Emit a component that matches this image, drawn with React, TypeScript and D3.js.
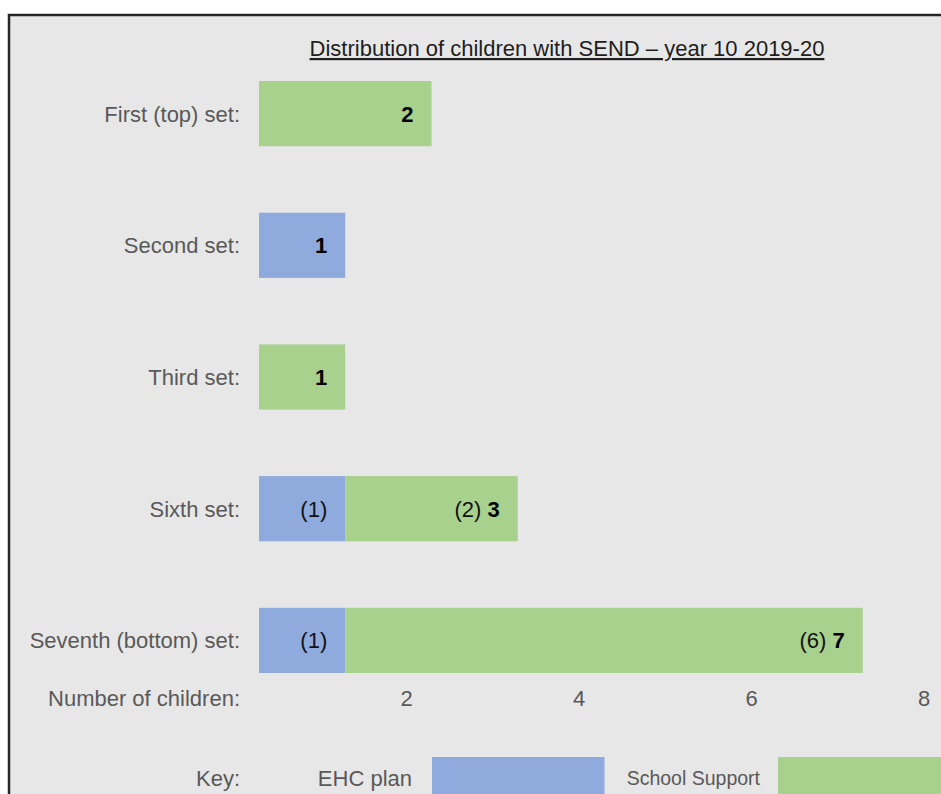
import React from "react";
import * as d3 from "d3";

const categories = ["First (top) set:", "Second set:", "Third set:", "Sixth set:", "Seventh (bottom) set:"];
const ehcPlan = [0, 1, 0, 1, 1];
const schoolSupport = [2, 0, 1, 2, 6];
const tickValues = [2, 4, 6, 8];
const title = "Distribution of children with SEND \u2013 year 10 2019-20";
const seriesNames = ["EHC plan", "School Support"];

const W = 941;
const H = 794;
const BLUE = "#8faadc";
const GREEN = "#a9d18e";
const GREY = "#595959";
const FONT = "'Liberation Sans', Arial, sans-serif";

export default function App() {
  const x = d3.scaleLinear().domain([0, 8]).range([259, 949]);
  const y = d3
    .scaleBand<string>()
    .domain(categories)
    .range([81, 673])
    .paddingInner(0.505)
    .paddingOuter(0);
  const bw = y.bandwidth();
  const labelX = 240;

  return (
    <div style={{ position: "fixed", left: 0, top: 0, width: W, height: H, background: "#fff" }}>
      <svg width={W} height={H} style={{ display: "block" }} fontFamily={FONT}>
        <rect x={9} y={15} width={W + 20} height={H + 20} fill="#e7e7e7" stroke="#262626" strokeWidth={2.5} />
        <text x={567} y={56} textAnchor="middle" fontSize={22} fill="#1e1e1e" textDecoration="underline">
          {title}
        </text>
        {categories.map((c, i) => {
          const top = y(c)!;
          const mid = top + bw / 2;
          const e = ehcPlan[i];
          const s = schoolSupport[i];
          const total = e + s;
          const both = e > 0 && s > 0;
          return (
            <g key={c}>
              <text x={labelX} y={mid + 8} textAnchor="end" fontSize={22} fill={GREY}>
                {c}
              </text>
              {e > 0 && <rect x={x(0)} y={top} width={x(e) - x(0)} height={bw} fill={BLUE} />}
              {s > 0 && <rect x={x(e)} y={top} width={x(e + s) - x(e)} height={bw} fill={GREEN} />}
              {both && (
                <text x={x(e) - 18} y={mid + 8} textAnchor="end" fontSize={22} fill="#111">
                  ({e})
                </text>
              )}
              <text x={x(total) - 18} y={mid + 8} textAnchor="end" fontSize={22} fill="#111">
                {both && <tspan>({s}) </tspan>}
                <tspan fontWeight="bold" fill="#000">{total}</tspan>
              </text>
            </g>
          );
        })}
        <text x={labelX} y={706} textAnchor="end" fontSize={22} fill={GREY}>
          Number of children:
        </text>
        {tickValues.map((t) => (
          <text key={t} x={x(t) - 25} y={706} textAnchor="middle" fontSize={22} fill={GREY}>
            {t}
          </text>
        ))}
        <text x={labelX} y={786} textAnchor="end" fontSize={22} fill={GREY}>
          Key:
        </text>
        <text x={412} y={786} textAnchor="end" fontSize={22} fill={GREY}>
          {seriesNames[0]}
        </text>
        <rect x={x(0) + 173} y={757} width={x(2) - x(0)} height={60} fill={BLUE} />
        <text x={760} y={785} textAnchor="end" fontSize={19.5} fill={GREY}>
          {seriesNames[1]}
        </text>
        <rect x={778} y={757} width={x(2) - x(0)} height={60} fill={GREEN} />
      </svg>
    </div>
  );
}
